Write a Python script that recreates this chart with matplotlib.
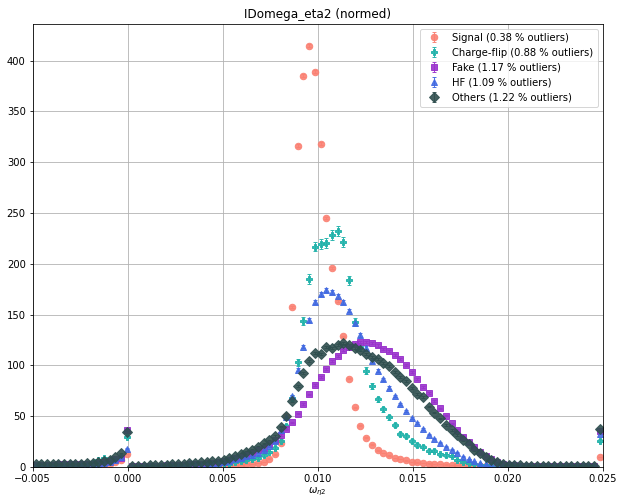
import numpy as np
import matplotlib
matplotlib.use("Agg")
import matplotlib.pyplot as plt

# binning of the omega_eta2 variable (100 bins, outliers clipped into the edge bins)
bin_edges = np.linspace(-0.005, 0.025, 101)
bin_centers = 0.5 * (bin_edges[:-1] + bin_edges[1:])

# normalised histogram contents per sample
signal = [
    1.0, 1.0, 1.0, 1.0, 1.0, 1.0, 1.0, 1.0, 1.2, 1.2,
    1.5, 2.0, 2.5, 3.0, 4.5, 7.0, 13.0, 0.3, 0.3, 0.3,
    0.3, 0.4, 0.4, 0.5, 0.5, 0.6, 0.7, 0.8, 0.9, 1.0,
    1.1, 1.2, 1.4, 1.6, 1.8, 2.0, 2.3, 2.8, 3.3, 4.0,
    5.2, 8.3, 12.6, 24.0, 50.0, 157.6, 316.0, 385.0, 414.5, 389.0,
    318.0, 245.0, 196.0, 163.0, 128.5, 87.0, 58.8, 40.7, 29.0, 22.0,
    16.4, 13.8, 11.5, 9.0, 7.9, 6.6, 5.0, 4.5, 4.0, 3.5,
    3.1, 2.8, 2.5, 2.2, 2.0, 1.8, 1.6, 1.4, 1.2, 1.1,
    1.0, 0.9, 0.8, 0.7, 0.6, 0.5, 0.5, 0.4, 0.4, 0.3,
    0.3, 0.3, 0.3, 0.3, 0.3, 0.3, 0.3, 0.3, 0.3, 10.0,
]
charge_flip = [
    1.5, 1.5, 1.5, 1.5, 1.6, 1.6, 1.8, 2.0, 2.2, 2.5,
    4.0, 7.0, 8.5, 6.5, 8.0, 10.0, 30.0, 0.3, 0.3, 0.4,
    0.4, 0.5, 0.5, 0.6, 0.7, 0.8, 0.9, 1.0, 1.2, 1.4,
    1.6, 1.9, 2.3, 2.8, 3.5, 4.5, 5.5, 6.5, 7.5, 9.0,
    11.5, 15.0, 19.0, 26.0, 40.0, 68.0, 103.0, 144.0, 185.0, 217.0,
    219.5, 220.5, 228.5, 232.0, 221.0, 184.0, 142.5, 118.0, 95.0, 80.0,
    66.7, 56.8, 49.0, 41.7, 32.5, 30.5, 25.6, 21.7, 20.0, 16.0,
    16.0, 12.5, 11.5, 10.5, 7.2, 5.0, 4.0, 3.0, 2.5, 2.0,
    1.6, 1.3, 1.1, 1.0, 0.9, 0.8, 0.7, 0.7, 0.6, 0.6,
    0.5, 0.5, 0.5, 0.5, 0.5, 0.5, 0.5, 0.5, 0.5, 26.0,
]
fake = [
    2.5, 2.5, 2.5, 2.5, 2.6, 2.6, 2.7, 2.8, 3.0, 3.2,
    3.5, 4.2, 5.0, 6.0, 7.5, 9.0, 36.5, 0.8, 0.9, 1.0,
    1.1, 1.2, 1.4, 1.6, 1.8, 2.0, 2.3, 2.6, 3.0, 3.4,
    3.9, 4.4, 5.0, 5.8, 7.0, 8.5, 10.0, 12.0, 14.0, 16.5,
    19.0, 22.4, 26.6, 31.5, 37.0, 44.0, 52.5, 62.0, 71.5, 81.0,
    89.0, 96.6, 104.0, 109.7, 115.3, 118.5, 121.0, 123.0, 123.0, 122.0,
    119.7, 116.3, 114.6, 110.0, 106.0, 100.0, 94.0, 86.7, 79.0, 72.6,
    65.0, 57.8, 50.5, 43.0, 36.5, 30.0, 25.0, 20.0, 15.0, 10.8,
    7.5, 5.0, 3.0, 2.0, 1.6, 1.4, 1.3, 1.2, 1.2, 1.1,
    1.1, 1.1, 1.0, 1.0, 1.0, 1.0, 1.0, 1.0, 1.0, 35.0,
]
hf = [
    1.5, 1.5, 1.5, 1.5, 1.5, 1.6, 1.7, 1.8, 2.0, 2.2,
    2.6, 3.2, 4.0, 5.0, 7.0, 10.0, 18.0, 0.4, 0.5, 0.5,
    0.6, 0.7, 0.8, 0.9, 1.0, 1.2, 1.4, 1.6, 1.9, 2.2,
    2.6, 3.1, 3.8, 4.7, 6.0, 7.5, 9.0, 10.5, 12.0, 14.0,
    16.5, 20.5, 26.0, 36.0, 49.0, 70.0, 95.6, 118.5, 145.0, 162.0,
    170.0, 174.0, 172.0, 168.0, 162.0, 154.0, 142.0, 130.0, 117.5, 104.0,
    95.0, 86.4, 78.0, 70.0, 62.0, 55.5, 48.0, 43.0, 37.7, 32.0,
    28.0, 24.0, 20.0, 17.0, 14.0, 10.0, 8.0, 5.5, 4.0, 3.0,
    2.2, 1.7, 1.4, 1.2, 1.0, 0.9, 0.8, 0.8, 0.7, 0.7,
    0.7, 0.6, 0.6, 0.6, 0.6, 0.6, 0.6, 0.6, 0.6, 33.0,
]
others = [
    3.0, 3.0, 3.2, 3.0, 3.2, 3.0, 3.2, 3.3, 3.5, 3.8,
    4.2, 5.0, 6.0, 7.0, 9.5, 13.5, 34.5, 1.0, 1.2, 1.4,
    1.6, 1.8, 2.0, 2.3, 2.6, 3.0, 3.4, 3.8, 4.2, 4.7,
    5.2, 5.8, 6.4, 7.4, 9.0, 11.0, 13.0, 15.3, 17.2, 20.0,
    23.6, 26.4, 30.6, 39.7, 50.0, 65.0, 80.0, 93.0, 104.0, 112.0,
    111.0, 118.5, 117.5, 120.0, 122.0, 120.0, 117.5, 115.0, 111.0, 108.7,
    106.4, 102.8, 99.5, 93.6, 89.0, 85.0, 78.0, 71.6, 68.7, 59.4,
    53.5, 48.0, 41.4, 36.5, 31.5, 26.6, 22.7, 16.7, 13.5, 10.0,
    7.0, 4.6, 3.0, 2.2, 1.8, 1.6, 1.5, 1.5, 1.4, 1.4,
    1.4, 1.3, 1.3, 1.3, 1.3, 1.3, 1.3, 1.3, 1.3, 37.5,
]

labels = [
    "Signal (0.38 % outliers)",
    "Charge-flip (0.88 % outliers)",
    "Fake (1.17 % outliers)",
    "HF (1.09 % outliers)",
    "Others (1.22 % outliers)",
]
colors = ["salmon", "lightseagreen", "darkorchid", "royalblue", "darkslategray"]
markers = ["o", "P", "s", "^", "D"]
# relative statistical uncertainty scale per sample (err = k * sqrt(content))
err_scale = [0.08, 0.33, 0.1, 0.15, 0.1]

fig = plt.figure(figsize=(617 / 72, 499 / 72), dpi=72)
ax = fig.add_axes([0.053, 0.064, 0.9237, 0.888])

for vals, lab, col, mk, k in zip([signal, charge_flip, fake, hf, others],
                                 labels, colors, markers, err_scale):
    vals = np.array(vals)
    ax.errorbar(bin_centers, vals, yerr=k * np.sqrt(vals), fmt=mk, color=col,
                markersize=6.5, capsize=2, elinewidth=1, alpha=0.9, label=lab)

ax.set_xlim(-0.005, 0.025)
ax.set_ylim(0, 436)
ax.set_yticks(np.arange(0, 401, 50))
ax.grid(True)
ax.set_axisbelow(True)
ax.set_title("IDomega_eta2 (normed)")
ax.set_xlabel(r"$\omega_{\eta 2}$", labelpad=2)
ax.legend(loc="upper right")

fig.savefig("out.png", dpi=72)
